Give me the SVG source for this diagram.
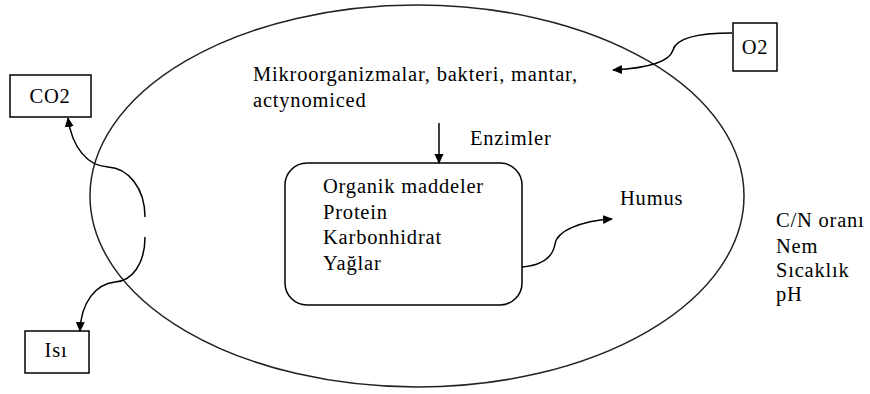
<svg xmlns="http://www.w3.org/2000/svg" width="870" height="394" viewBox="0 0 870 394">
<defs>
<style>
text{font-family:"Liberation Serif","Times New Roman",serif;font-size:20.5px;fill:#000;letter-spacing:0.8px}
.box{fill:#fff;stroke:#000;stroke-width:1.5}
.ln{fill:none;stroke:#000;stroke-width:1.5}
</style>
<marker id="ah" viewBox="0 0 10 10" refX="9" refY="5" markerWidth="10" markerHeight="10" markerUnits="userSpaceOnUse" orient="auto">
<path d="M0,0.5 L10,5 L0,9.5 Z" fill="#000"/>
</marker>
</defs>
<rect width="870" height="394" fill="#fff"/>
<g id="ellipse">
<ellipse cx="417" cy="196" rx="327" ry="191" fill="none" stroke="#222" stroke-width="1.5"/>
</g>
<g id="micro">
<text x="253" y="81">Mikroorganizmalar, bakteri, mantar,</text>
<text x="253" y="107">actynomiced</text>
</g>
<g id="enzimler"><text x="470" y="145">Enzimler</text></g>
<g id="organik">
<rect class="box" x="285" y="163" width="237" height="142" rx="22"/>
<text x="323" y="193">Organik maddeler</text>
<text x="323" y="219">Protein</text>
<text x="323" y="244">Karbonhidrat</text>
<text x="323" y="270">Yağlar</text>
</g>
<g id="humus"><text x="620" y="205">Humus</text></g>
<g id="factors">
<text x="776" y="227">C/N oranı</text>
<text x="776" y="253">Nem</text>
<text x="776" y="277">Sıcaklık</text>
<text x="776" y="301">pH</text>
</g>
<g id="co2">
<rect class="box" x="10" y="75" width="81" height="42"/>
<text x="50" y="103" text-anchor="middle">CO2</text>
</g>
<g id="isi">
<rect class="box" x="25" y="331" width="64" height="42"/>
<text x="56" y="357" text-anchor="middle">Isı</text>
</g>
<g id="o2">
<rect class="box" x="733" y="23" width="44" height="48"/>
<text x="755" y="54" text-anchor="middle">O2</text>
</g>
<g id="connectors">
<path class="ln" d="M439,123 L439,163" marker-end="url(#ah)"/>
<path class="ln" d="M732,33 C695,33 676,39 673,50 C670,61 650,68 613,70" marker-end="url(#ah)"/>
<path class="ln" d="M145,217 C145,188 128,168 108,167 C88,166 72,148 68,118" marker-end="url(#ah)"/>
<path class="ln" d="M145,237 C145,264 132,281 115,282 C96,284 81,302 80,331" marker-end="url(#ah)"/>
<path class="ln" d="M522,267 C545,265 553,256 555,244 C557,231 580,221 612,219" marker-end="url(#ah)"/>
</g>
</svg>
